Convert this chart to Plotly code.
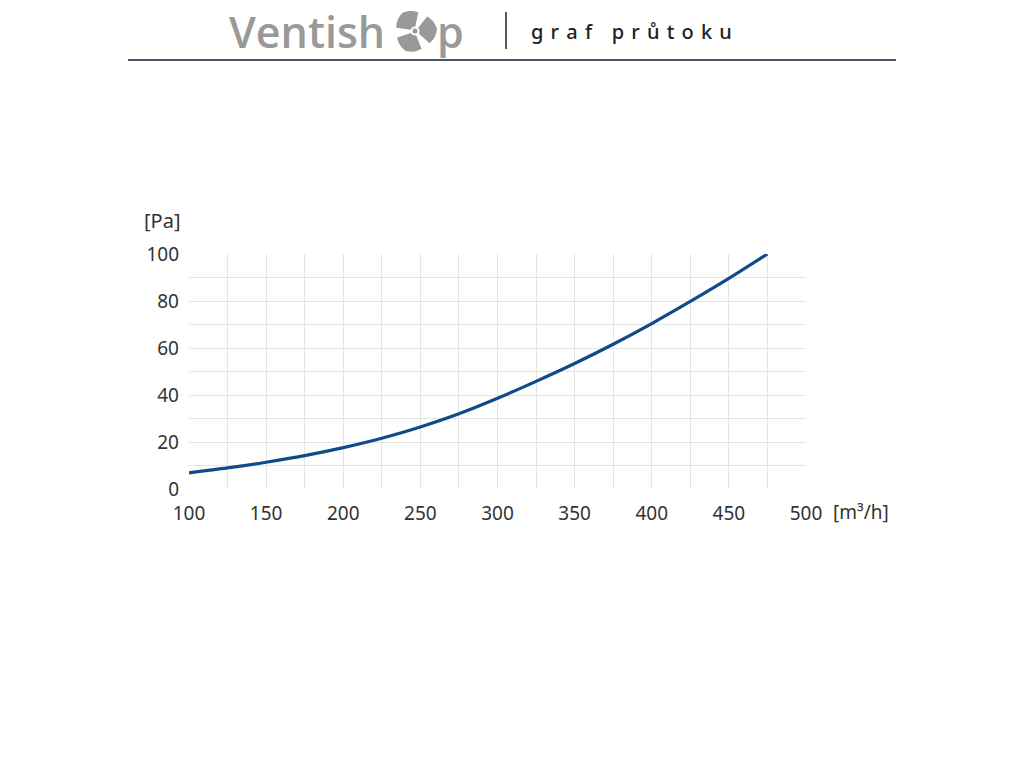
import math
import plotly.graph_objects as go

# Data
flow_m3h = [100, 125, 150, 175, 200, 225, 250, 275, 300, 325, 350, 375, 400, 425, 450, 475]
pressure_pa = [6.9, 9.0, 11.4, 14.2, 17.6, 21.6, 26.4, 32.0, 38.6, 45.8, 53.4, 61.6, 70.4, 79.8, 89.6, 100.0]
x_ticks = [100, 150, 200, 250, 300, 350, 400, 450, 500]
y_ticks = [0, 20, 40, 60, 80, 100]
x_unit = "[m³/h]"
y_unit = "[Pa]"
brand_left = "Ventish"
brand_right = "p"
subtitle = "g \u200Ar \u200Aa \u200Af \u200A  \u200Ap \u200Ar \u200Aů \u200At \u200Ao \u200Ak \u200Au"

W, H = 1024, 768
OFF = 8  # page body margin
L, R, T, B = 189, 806, 254, 489


def px(xp, yp):
    return (xp - L) / (R - L), (B - yp) / (B - T)


fig = go.Figure()
fig.add_trace(go.Scatter(
    x=flow_m3h, y=pressure_pa, mode="lines",
    line=dict(color="#114a88", width=3.2, shape="spline", smoothing=0.8),
    hoverinfo="skip", showlegend=False,
))

grid = "#e4e4e4"
tick_font = dict(family="Noto Sans, Open Sans, sans-serif", size=19, color="#333333")
fig.update_xaxes(
    range=[100, 500], tickvals=x_ticks, showgrid=True, gridcolor=grid, gridwidth=1,
    minor=dict(dtick=25, showgrid=True, gridcolor=grid, gridwidth=1),
    zeroline=False, showline=False, ticks="", tickfont=tick_font, ticklabelstandoff=11,
    fixedrange=True,
)
fig.update_yaxes(
    range=[0, 100], tickvals=y_ticks, showgrid=True, gridcolor=grid, gridwidth=1,
    minor=dict(dtick=10, showgrid=True, gridcolor=grid, gridwidth=1),
    zeroline=False, showline=False, ticks="", tickfont=tick_font, ticklabelstandoff=9,
    fixedrange=True,
)

annotations = []
shapes = []

# axis unit labels
ax_, ay_ = px(162, 220)
annotations.append(dict(text=y_unit, x=ax_, y=ay_, xref="paper", yref="paper",
                        showarrow=False, xanchor="center", yanchor="middle",
                        font=dict(family="Noto Sans, sans-serif", size=20, color="#333333")))
ux, uy = px(861, 512)
annotations.append(dict(text=x_unit, x=ux, y=uy, xref="paper", yref="paper",
                        showarrow=False, xanchor="center", yanchor="middle",
                        font=dict(family="Noto Sans, sans-serif", size=19, color="#333333")))

# header
bx, by = px(387, 31)
annotations.append(dict(text=brand_left, x=bx, y=by, xref="paper", yref="paper",
                        showarrow=False, xanchor="right", yanchor="middle",
                        font=dict(family="Open Sans, sans-serif", size=43, color="#999999", weight=600)))
px2, py2 = px(435, 31)
annotations.append(dict(text=brand_right, x=px2, y=py2, xref="paper", yref="paper",
                        showarrow=False, xanchor="left", yanchor="middle",
                        font=dict(family="Open Sans, sans-serif", size=43, color="#999999", weight=600)))
sx, sy = px(529, 31)
annotations.append(dict(text=subtitle, x=sx, y=sy, xref="paper", yref="paper",
                        showarrow=False, xanchor="left", yanchor="middle",
                        font=dict(family="Noto Sans, sans-serif", size=20, color="#222222", weight=500)))

# separator lines
x0, y0 = px(506, 12)
x1, y1 = px(506, 49)
shapes.append(dict(type="line", xref="paper", yref="paper", x0=x0, y0=y0, x1=x1, y1=y1,
                   line=dict(color="#222222", width=1.5)))
x0, y0 = px(128, 60)
x1, y1 = px(896, 60)
shapes.append(dict(type="line", xref="paper", yref="paper", x0=x0, y0=y0, x1=x1, y1=y1,
                   line=dict(color="#4a5868", width=2)))

# fan icon (three blades)
cx, cy = 415, 31
for ang in (125, 5, 245):
    pts = []
    for i in range(21):
        a = math.radians(ang - 45 + 90 * i / 20)
        r = 22 - 3 * abs(i - 10) / 10
        pts.append((cx + r * math.cos(a), cy - r * math.sin(a)))
    for i in range(6):
        a = math.radians(ang + 40 - 80 * i / 5)
        pts.append((cx + 4.5 * math.cos(a), cy - 4.5 * math.sin(a)))
    path = "M " + " L ".join(f"{px(p[0], p[1])[0]:.5f},{px(p[0], p[1])[1]:.5f}" for p in pts) + " Z"
    shapes.append(dict(type="path", xref="paper", yref="paper", path=path,
                       fillcolor="#999999", line=dict(width=0)))
dx0, dy0 = px(cx - 2.5, cy - 2.5)
dx1, dy1 = px(cx + 2.5, cy + 2.5)
shapes.append(dict(type="circle", xref="paper", yref="paper", x0=dx0, y0=dy0, x1=dx1, y1=dy1,
                   fillcolor="#999999", line=dict(width=0)))

fig.update_layout(
    width=W, height=H,
    margin=dict(l=L - OFF, r=W - R + OFF, t=T - OFF, b=H - B + OFF, autoexpand=False),
    paper_bgcolor="white", plot_bgcolor="white",
    annotations=annotations, shapes=shapes, showlegend=False,
)

fig.write_html("out.html")
